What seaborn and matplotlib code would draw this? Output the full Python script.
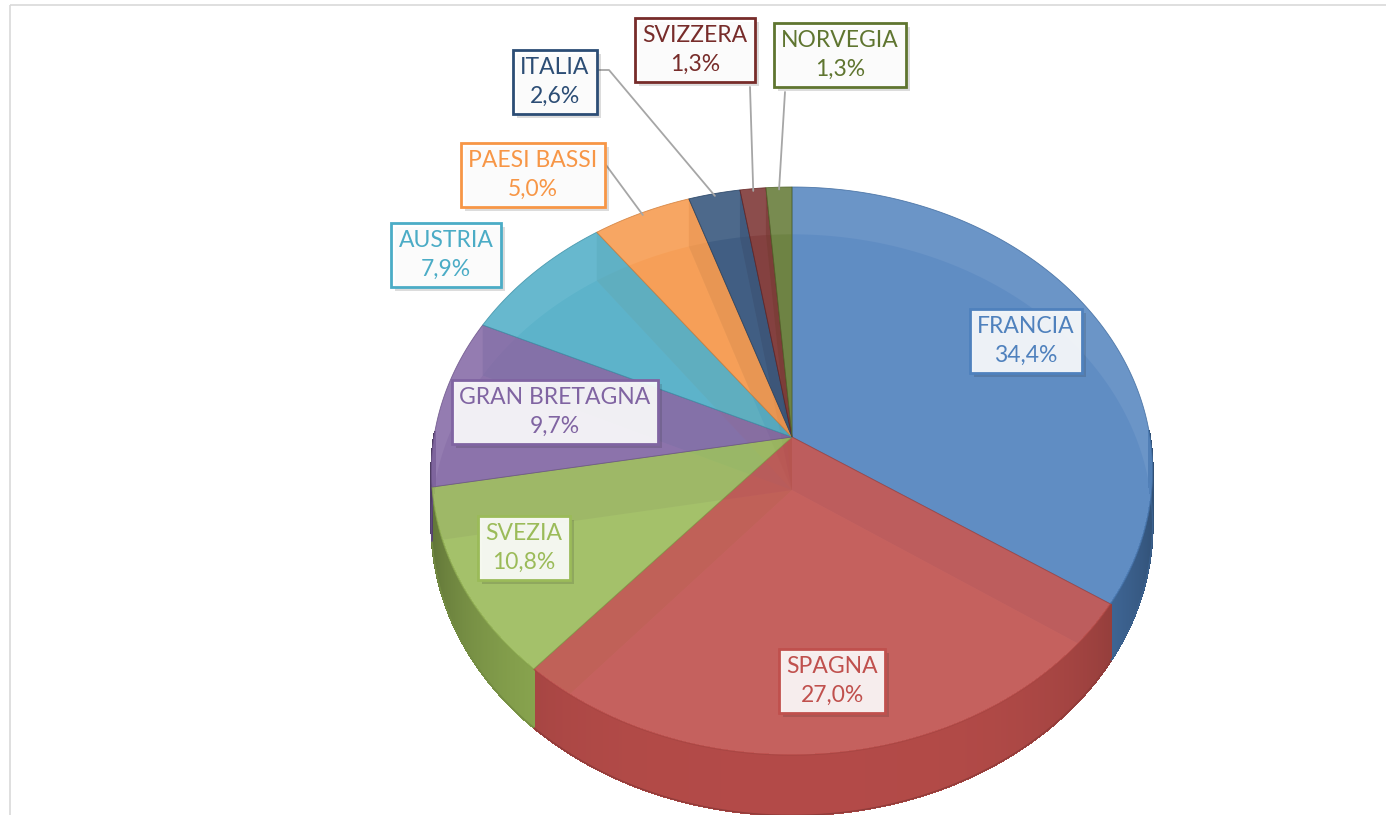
import numpy as np
import matplotlib
matplotlib.use("Agg")
import matplotlib.pyplot as plt
import matplotlib.patheffects as pe
from matplotlib.patches import Polygon, Rectangle
import matplotlib.colors as mcolors
import seaborn as sns

# data
paesi = ["FRANCIA", "SPAGNA", "SVEZIA", "GRAN BRETAGNA", "AUSTRIA",
         "PAESI BASSI", "ITALIA", "SVIZZERA", "NORVEGIA"]
quote = [34.4, 27.0, 10.8, 9.7, 7.9, 5.0, 2.6, 1.3, 1.3]
colori = ["#4F81BD", "#C0504D", "#9BBB59", "#8064A2", "#4BACC6",
          "#F79646", "#2C4D75", "#772C2A", "#5F7530"]

# layout (pixel coords): label centres and leader-line start points
label_pos = {
    "FRANCIA": (1026, 341), "SPAGNA": (832, 681), "SVEZIA": (524, 548),
    "GRAN BRETAGNA": (555, 412), "AUSTRIA": (446, 255),
    "PAESI BASSI": (533, 175), "ITALIA": (555, 82),
    "SVIZZERA": (695, 50), "NORVEGIA": (840, 55),
}
leader_start = {
    "PAESI BASSI": [(606, 165)],
    "ITALIA": [(598, 70), (609, 70)],
    "SVIZZERA": [(750, 87)],
    "NORVEGIA": [(785, 92)],
}

# 3d pie geometry
CX, CY = 792, 437
RX, RY = 358, 280
K = 0.12      # perspective
D = 53        # thickness


def proj(theta, r=1.0, z=0.0):
    t = np.deg2rad(theta)
    u, v = r * np.cos(t), r * np.sin(t)
    s = 1.0 / (1.0 + K * v)
    return CX + RX * u * s, CY - RY * v * s + z * D * s


def arc(t1, t2, z=0.0):
    n = max(3, int(abs(t2 - t1) * 2))
    th = np.linspace(t1, t2, n)
    return [proj(t, 1.0, z) for t in th]


def shade(c, f):
    r, g, b = mcolors.to_rgb(c)
    return (r * f, g * f, b * f)


def tint(c, f):
    r, g, b = mcolors.to_rgb(c)
    return (r + (1 - r) * f, g + (1 - g) * f, b + (1 - b) * f)


sns.set_theme(style="white")
plt.rcParams["font.family"] = ["Lato", "DejaVu Sans"]

fig = plt.figure(figsize=(13.86, 8.15), dpi=100)
ax = fig.add_axes([0, 0, 1, 1])
ax.set_xlim(0, 1386)
ax.set_ylim(815, 0)
ax.axis("off")

# chart frame
ax.add_patch(Rectangle((10, 5), 1400, 830, fill=False, ec="#D9D9D9", lw=1.2, zorder=0))

cum = np.concatenate([[0], np.cumsum(quote)])
angles = [(90 - cum[i] * 3.6, 90 - cum[i + 1] * 3.6) for i in range(len(quote))]

for (t1, t2), col in zip(angles, colori):
    # bottom face
    pts = [(CX, CY + D)] + arc(t1, t2, 1.0)
    ax.add_patch(Polygon(pts, closed=True, fc=shade(col, 0.92), ec="none", alpha=0.45, zorder=1))
    # radial walls
    for t in (t1, t2):
        w = [(CX, CY), proj(t, 1, 0), proj(t, 1, 1), (CX, CY + D)]
        ax.add_patch(Polygon(w, closed=True, fc=shade(col, 0.85), ec="none", alpha=0.3, zorder=2))

# front rim (shaded strips)
for (t1, t2), col in zip(angles, colori):
    th = np.linspace(t1, t2, max(3, int(abs(t2 - t1) * 3)))
    bottom_edge = []
    for a, b in zip(th[:-1], th[1:]):
        m = 0.5 * (a + b)
        if np.sin(np.deg2rad(m)) >= 0.02:
            continue
        f = 0.93 - 0.32 * abs(np.cos(np.deg2rad(m))) ** 4
        q = [proj(a, 1, 0), proj(b, 1, 0), proj(b, 1, 1), proj(a, 1, 1)]
        c = shade(col, f)
        ax.add_patch(Polygon(q, closed=True, fc=c, ec=c, lw=0.8,
                             antialiased=False, zorder=3))
        bottom_edge += [proj(a, 1, 1), proj(b, 1, 1)]
    if bottom_edge:
        xs, ys = zip(*bottom_edge)
        ax.plot(xs, ys, color=shade(col, 0.75), lw=1.0, zorder=3.5)

# top faces
for (t1, t2), col in zip(angles, colori):
    pts = [(CX, CY)] + arc(t1, t2, 0.0)
    ax.add_patch(Polygon(pts, closed=True, fc=tint(col, 0.04), ec=shade(col, 0.85), lw=0.6,
                         alpha=0.88, zorder=4))

# leader lines
for nome, (t1, t2) in zip(paesi, angles):
    if nome in leader_start:
        end = proj(0.5 * (t1 + t2), 0.99, 0)
        pts = leader_start[nome] + [end]
        xs, ys = zip(*pts)
        ax.plot(xs, ys, color="#A6A6A6", lw=1.3, zorder=5)

# labels
for nome, q, col in zip(paesi, quote, colori):
    x, y = label_pos[nome]
    txt = f"{nome}\n{q:.1f}%".replace(".", ",")
    t = ax.text(x, y, txt, ha="center", va="center", fontsize=16.5, color=col,
                linespacing=1.45, zorder=6,
                bbox=dict(boxstyle="square,pad=0.32", fc=(1, 1, 1, 0.9), ec=col, lw=2))
    t.get_bbox_patch().set_path_effects([
        pe.SimplePatchShadow(offset=(3, -3), shadow_rgbFace="k", alpha=0.15),
        pe.Normal()])

fig.savefig("out.png", dpi=100)
